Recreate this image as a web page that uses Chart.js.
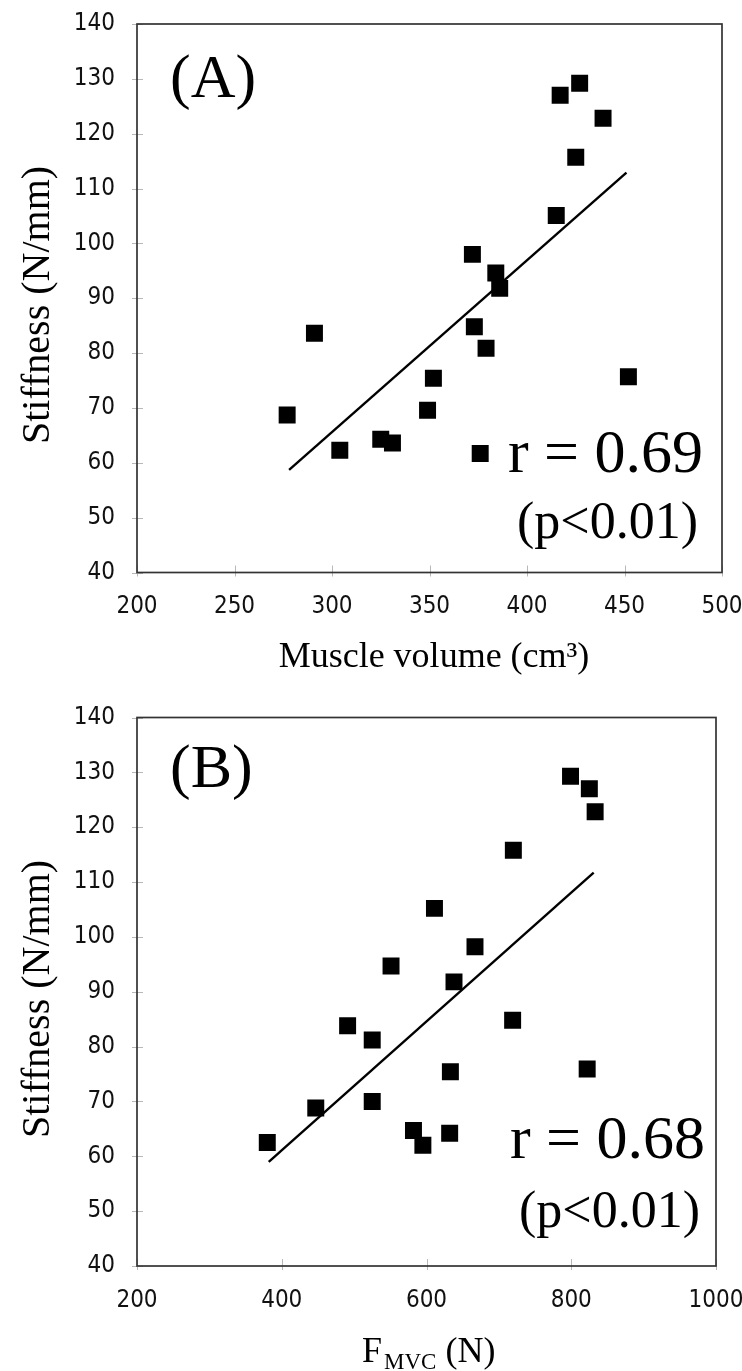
<!DOCTYPE html>
<html><head><meta charset="utf-8">
<script src="https://cdn.jsdelivr.net/npm/chart.js@4"></script>
<style>
html,body{margin:0;padding:0;background:#fff;width:742px;height:1371px;overflow:hidden}
canvas{position:absolute;left:0}
#ca{top:0}
#cb{top:686px}
</style></head><body>
<canvas id="ca" width="742" height="686"></canvas>
<canvas id="cb" width="742" height="685"></canvas>
<script>
// ---- Data (A): Muscle volume vs stiffness ----
const volumeA    = [417, 427, 439, 425, 415, 372, 384, 386, 291, 373, 379, 352, 452, 277, 349, 304, 325, 331, 376];
const stiffnessA = [127.0, 129.2, 122.8, 115.7, 105.1, 98.0, 94.6, 91.8, 83.6, 84.8, 80.9, 75.4, 75.7, 68.7, 69.6, 62.3, 64.3, 63.6, 61.7];
const trendAx = [278, 451];
const trendAy = [58.7, 112.9];
// ---- Data (B): F_MVC vs stiffness ----
const fmvcB      = [799, 825, 833, 720, 611, 667, 551, 638, 491, 525, 719, 633, 822, 447, 525, 582, 632, 380, 595];
const stiffnessB = [129.3, 127.0, 122.8, 115.8, 105.2, 98.2, 94.7, 91.8, 83.8, 81.2, 84.8, 75.4, 75.9, 68.8, 70.0, 64.7, 64.2, 62.5, 62.0];
const trendBx = [382, 831];
const trendBy = [59.0, 111.7];
// ---- Tick labels ----
const yTicks  = [40, 50, 60, 70, 80, 90, 100, 110, 120, 130, 140];
const xTicksA = [200, 250, 300, 350, 400, 450, 500];
const xTicksB = [200, 400, 600, 800, 1000];

const SERIF = '"Liberation Serif", "Times New Roman", serif';
const TICKFONT = '"Liberation Sans Narrow", "Arial Narrow", "DejaVu Sans Condensed", sans-serif';

function decorPlugin(texts) {
  return {
    id: 'decor',
    afterDraw(chart) {
      const ctx = chart.ctx, a = chart.chartArea;
      const xs = chart.scales.x, ys = chart.scales.y;
      ctx.save();
      ctx.strokeStyle = '#b8b8b8';
      ctx.lineWidth = 1;
      ys.ticks.forEach(t => {
        const y = Math.round(ys.getPixelForValue(t.value)) + 0.5;
        ctx.beginPath(); ctx.moveTo(a.left - 5, y); ctx.lineTo(a.left + 6, y); ctx.stroke();
      });
      xs.ticks.forEach(t => {
        const x = Math.round(xs.getPixelForValue(t.value)) + 0.5;
        ctx.beginPath(); ctx.moveTo(x, a.bottom + 4); ctx.lineTo(x, a.bottom - 7); ctx.stroke();
      });
      ctx.strokeStyle = '#333';
      ctx.lineWidth = 1.7;
      ctx.strokeRect(a.left, a.top, a.right - a.left, a.bottom - a.top);
      ctx.fillStyle = '#000';
      texts(ctx);
      ctx.restore();
    }
  };
}

function makeChart(id, xv, yv, tx, ty, xTicks, pad, xHeight, texts) {
  const pts = xv.map((x, i) => ({x: x, y: yv[i]}));
  const line = tx.map((x, i) => ({x: x, y: ty[i]}));
  const tickFont = {family: TICKFONT, size: 24};
  return new Chart(document.getElementById(id), {
    type: 'scatter',
    data: {
      datasets: [
        {data: pts, pointStyle: 'rect', pointRadius: 12, pointHoverRadius: 12,
         backgroundColor: '#000', borderColor: '#000', borderWidth: 0},
        {type: 'line', data: line, showLine: true, pointRadius: 0,
         borderColor: '#000', borderWidth: 2.4, fill: false}
      ]
    },
    options: {
      responsive: false, animation: false, devicePixelRatio: 1,
      layout: {padding: pad},
      plugins: {legend: {display: false}, tooltip: {enabled: false}},
      scales: {
        x: {
          type: 'linear', min: xTicks[0], max: xTicks[xTicks.length - 1],
          afterBuildTicks: s => { s.ticks = xTicks.map(v => ({value: v})); },
          afterFit: s => { s.height = xHeight; s.paddingLeft = 0; s.paddingRight = 0; },
          grid: {display: false, drawTicks: false}, border: {display: false},
          ticks: {padding: 20, color: '#111', font: tickFont, callback: v => String(v)}
        },
        y: {
          type: 'linear', min: yTicks[0], max: yTicks[yTicks.length - 1],
          afterBuildTicks: s => { s.ticks = yTicks.map(v => ({value: v})); },
          afterFit: s => { s.width = 137; s.paddingTop = 0; s.paddingBottom = 0; },
          grid: {display: false, drawTicks: false}, border: {display: false},
          ticks: {padding: 22, color: '#111', font: tickFont, callback: v => String(v)}
        }
      }
    },
    plugins: [decorPlugin(texts)]
  });
}

function yTitle(ctx, cy) {
  ctx.save();
  ctx.translate(49, cy);
  ctx.rotate(-Math.PI / 2);
  ctx.font = '40px ' + SERIF;
  ctx.textAlign = 'center'; ctx.textBaseline = 'alphabetic';
  ctx.fillText('Stiffness (N/mm)', 0, 0);
  ctx.restore();
}

makeChart('ca', volumeA, stiffnessA, trendAx, trendAy, xTicksA,
  {left: 0, right: 20, top: 24, bottom: 0}, 113.5, ctx => {
    ctx.textBaseline = 'alphabetic';
    ctx.font = '62px ' + SERIF; ctx.textAlign = 'left';
    ctx.fillText('(A)', 170, 97);
    ctx.textAlign = 'right';
    ctx.fillText('r = 0.69', 703, 472);
    ctx.font = '52px ' + SERIF;
    ctx.fillText('(p<0.01)', 698, 538);
    yTitle(ctx, 305);
    ctx.font = '36px ' + SERIF; ctx.textAlign = 'center';
    ctx.fillText('Muscle volume (cm\u00B3)', 434, 667);
  });

makeChart('cb', fmvcB, stiffnessB, trendBx, trendBy, xTicksB,
  {left: 0, right: 26, top: 31.5, bottom: 0}, 105, ctx => {
    ctx.textBaseline = 'alphabetic';
    ctx.font = '62px ' + SERIF; ctx.textAlign = 'left';
    ctx.fillText('(B)', 170, 101);
    ctx.textAlign = 'right';
    ctx.fillText('r = 0.68', 705, 472);
    ctx.font = '52px ' + SERIF;
    ctx.fillText('(p<0.01)', 700, 541);
    yTitle(ctx, 313);
    ctx.textAlign = 'left';
    let x = 362;
    ctx.font = '36px ' + SERIF;
    ctx.fillText('F', x, 676); x += ctx.measureText('F').width + 2;
    ctx.font = '23px ' + SERIF;
    ctx.fillText('MVC', x, 683); x += ctx.measureText('MVC').width;
    ctx.font = '36px ' + SERIF;
    ctx.fillText(' (N)', x, 676);
  });
</script>
</body></html>
